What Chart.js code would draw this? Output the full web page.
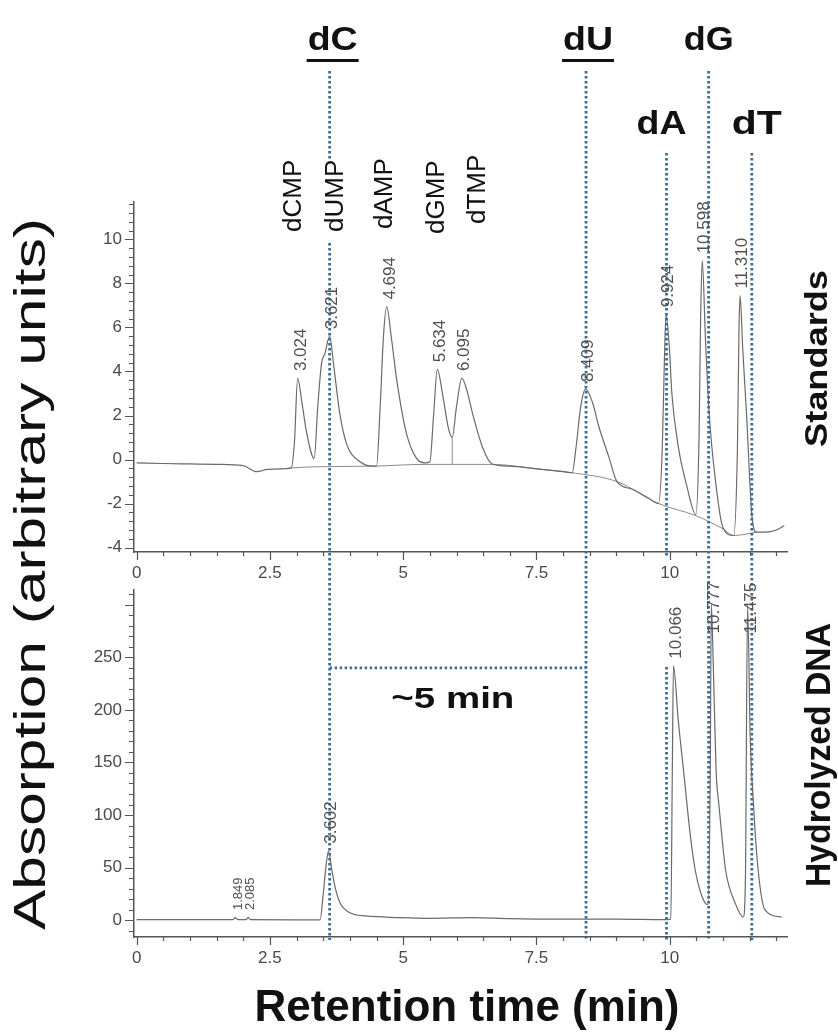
<!DOCTYPE html>
<html>
<head>
<meta charset="utf-8">
<title>HPLC of nucleosides: standards vs hydrolyzed DNA</title>
<script src="https://cdn.jsdelivr.net/npm/chart.js@4.4.1/dist/chart.umd.min.js"></script>
<style>
  html, body { margin: 0; padding: 0; background: #fff; }
  #figure { position: relative; width: 838px; height: 1032px; }
  #figure canvas { position: absolute; left: 0; top: 0; }
</style>
</head>
<body>
<div id="figure">
  <canvas id="standards" width="838" height="1032"></canvas>
  <canvas id="hydrolyzed" width="838" height="1032"></canvas>
</div>
<script>
// ─── Data: standards trace (top) ─────────────────────────────
const stdTime = [0, 0.5, 1.0, 1.5, 2.0, 2.25, 2.45, 2.7, 2.9, 2.96, 3.02, 3.1, 3.19, 3.33, 3.4,
  3.47, 3.53, 3.62, 3.7, 3.81, 3.94, 4.19, 4.43, 4.5, 4.57, 4.63, 4.69, 4.78, 4.88, 5.06,
  5.25, 5.4, 5.5, 5.57, 5.64, 5.75, 5.85, 5.92, 6.0, 6.1, 6.2, 6.3, 6.49, 6.67, 7.0,
  7.5, 8.0, 8.17, 8.24, 8.33, 8.42, 8.55, 8.67, 8.86, 9.01, 9.3, 9.6, 9.79, 9.86, 9.9,
  9.93, 9.99, 10.04, 10.16, 10.32, 10.49, 10.55, 10.58, 10.61, 10.67, 10.74, 10.86, 11.0, 11.2, 11.27,
  11.3, 11.32, 11.37, 11.44, 11.54, 11.63, 11.8, 12.0, 12.15];
const stdSignal = [-0.15, -0.18, -0.2, -0.22, -0.28, -0.55, -0.45, -0.42, -0.38, 0.8, 3.7, 2.6, 1.2, 0.05, 2.5,
  4.4, 4.8, 5.6, 4.2, 2.1, 0.7, -0.1, -0.3, -0.3, 2.5, 5.6, 6.95, 5.5, 3.6, 1.2,
  0.05, -0.15, -0.1, 2.0, 4.1, 2.8, 1.4, 1.0, 2.4, 3.7, 3.1, 2.1, 0.55, -0.2, -0.3,
  -0.42, -0.55, -0.6, 0.5, 2.4, 3.2, 2.6, 1.5, 0.1, -1.0, -1.35, -1.75, -2.0, 0.5, 4.5,
  6.6, 5.2, 3.0, 0.6, -1.2, -2.5, 1.0, 6.5, 9.05, 5.5, 2.1, -1.0, -3.1, -3.45, 0.5,
  6.0, 7.45, 5.0, 2.1, -2.5, -3.3, -3.3, -3.2, -3.0];

// integrator baseline drawn under the standards peaks
const stdBaseTime = [2.9, 3.33, 4.43, 5.4, 5.92, 6.67, 7.5, 8.17, 9.01, 9.79, 10.49, 11.0, 11.2, 11.63];
const stdBaseline = [-0.38, -0.33, -0.3, -0.22, -0.22, -0.22, -0.42, -0.6, -1.0, -2.0, -2.55, -3.15, -3.45, -3.3];
const stdDropTime = [5.92, 5.92];
const stdDropLevel = [1.0, -0.22];

const stdPeakLabels = ['3.024', '3.621', '4.694', '5.634', '6.095', '8.409', '9.924', '10.598', '11.310'];
const stdPeakHeights = [3.7, 5.6, 6.95, 4.1, 3.7, 3.2, 6.6, 9.05, 7.45];

// ─── Data: hydrolyzed DNA trace (bottom) ─────────────────────
const dnaTime = [0, 1.0, 1.8, 1.85, 1.9, 2.05, 2.09, 2.14, 3.0, 3.44,
  3.5, 3.56, 3.6, 3.66, 3.72, 3.81, 4.0, 4.3, 4.93, 5.5,
  6.3, 7.0, 8.0, 9.0, 9.9, 10.02, 10.05, 10.07, 10.16, 10.26,
  10.39, 10.48, 10.57, 10.67, 10.72, 10.76, 10.78, 10.82, 10.87, 10.92,
  10.98, 11.05, 11.23, 11.38, 11.42, 11.46, 11.51, 11.57, 11.66, 11.79, 12.1];
const dnaSignal = [0.5, 0.5, 0.5, 2.5, 0.5, 0.5, 2.5, 0.5, 0.3, 0.3,
  25, 55, 66, 48, 32, 17, 7, 4, 2.5, 1.8,
  2.5, 1.5, 1, 1, 0.5, 1, 150, 242, 190, 142,
  79, 47, 28, 16, 15, 140, 300, 237, 142, 111,
  79, 47, 16, 3, 40, 300, 174, 111, 47, 9.5, 3];

const dnaPeakLabels = ['1.849', '2.085', '3.602', '10.066', '10.777', '11.475'];
const dnaLabelAnchors = [3, 3, 66, 242, 266, 266];

// ─── Nucleoside markers ──────────────────────────────────────
const nucleosides = ['dC', 'dU', 'dA', 'dG', 'dT'];
const nucleosideTimes = [3.62, 8.43, 9.94, 10.73, 11.54];
const underlined = [true, true, false, false, false];
const nucleotides = ['dCMP', 'dUMP', 'dAMP', 'dGMP', 'dTMP'];
const fiveMinLevel = 240;

// ─── Look ────────────────────────────────────────────────────
const FONT = "'Liberation Sans', Arial, Helvetica, sans-serif";
const CURVE = '#6a6a6a';
const AXIS = '#555555';
const TICK_TEXT = '#4a4a4a';
const DOTS = '#3d6b94';
const INK = '#111111';

const LAYOUT = {
  headY: 50, lowHeadY: 134, underlineY: 59,
  headOffsets: [3, 2, -5, 0, 5],
  dotSegments: [[[71, 159], [243, 940]], [[71, 940]], [[153, 556], [667, 940]], [[71, 940]], [[153, 940]]],
  nucleotideX: [294, 336, 385, 437, 478],
  nucleotideBottom: [232, 232, 229, 234, 224]
};

const pts = (xs, ys) => xs.map((x, i) => ({ x, y: ys[i] }));
const isMultiple = (v, step) => Math.abs(v / step - Math.round(v / step)) < 1e-6;

// ─── Text helpers ────────────────────────────────────────────
function hText(ctx, str, cx, baseline, size, weight, len) {
  ctx.save();
  ctx.font = `${weight} ${size}px ${FONT}`;
  const sx = len ? len / ctx.measureText(str).width : 1;
  ctx.translate(cx, baseline);
  ctx.scale(sx, 1);
  ctx.textAlign = 'center';
  ctx.textBaseline = 'alphabetic';
  ctx.fillText(str, 0, 0);
  ctx.restore();
}

function vText(ctx, str, cx, bottom, size, weight, len) {
  ctx.save();
  ctx.font = `${weight} ${size}px ${FONT}`;
  const sx = len ? len / ctx.measureText(str).width : 1;
  ctx.translate(cx, bottom);
  ctx.rotate(-Math.PI / 2);
  ctx.scale(sx, 1);
  ctx.textAlign = 'left';
  ctx.textBaseline = 'middle';
  ctx.fillText(str, 0, 0);
  ctx.restore();
}

function dotted(ctx, x1, y1, x2, y2) {
  ctx.beginPath();
  ctx.moveTo(x1, y1);
  ctx.lineTo(x2, y2);
  ctx.stroke();
}

// ─── Scales ──────────────────────────────────────────────────
function xScale() {
  return {
    type: 'linear', min: -0.05, max: 12.2,
    ticks: { stepSize: 2.5, includeBounds: false, padding: 11, color: TICK_TEXT,
      font: { family: FONT, size: 17 }, maxRotation: 0, autoSkip: false },
    grid: { display: false, drawTicks: false },
    border: { display: true, color: AXIS, width: 1.5 },
    afterFit(s) { s.height = 30; }
  };
}

function yScale(min, max, step, labelMax) {
  return {
    type: 'linear', min, max,
    ticks: { stepSize: step, includeBounds: false, padding: 12, color: TICK_TEXT,
      font: { family: FONT, size: 17 }, callback: v => (v <= labelMax ? String(v) : '') },
    grid: { display: false, drawTicks: false },
    border: { display: true, color: AXIS, width: 1.5 },
    afterFit(s) { s.width = 50; }
  };
}

// ─── Minor / major tick marks ────────────────────────────────
function axisTicks(yFrom, yTo, yMinor, yMajor) {
  return {
    id: 'axisTicks',
    afterDraw(chart) {
      const { ctx, chartArea: a, scales: { x, y } } = chart;
      ctx.save();
      ctx.strokeStyle = AXIS;
      ctx.lineWidth = 1.2;
      ctx.beginPath();
      for (let i = 0; i * 0.5 <= 12 + 1e-9; i++) {
        const v = i * 0.5;
        const px = Math.round(x.getPixelForValue(v)) + 0.5;
        const len = isMultiple(v, 2.5) ? 8 : 4;
        ctx.moveTo(px, a.bottom);
        ctx.lineTo(px, a.bottom + len);
      }
      for (let i = 0; yFrom + i * yMinor <= yTo + 1e-9; i++) {
        const v = yFrom + i * yMinor;
        const py = Math.round(y.getPixelForValue(v)) + 0.5;
        const len = isMultiple(v, yMajor) ? 9 : 5;
        ctx.moveTo(a.left - len, py);
        ctx.lineTo(a.left, py);
      }
      ctx.stroke();
      ctx.restore();
    }
  };
}

// ─── Figure annotations (drawn on the top canvas) ────────────
const figureText = {
  id: 'figureText',
  afterDraw(chart) {
    const { ctx, scales: { x, y } } = chart;
    ctx.save();

    // dotted marker lines
    ctx.strokeStyle = DOTS;
    ctx.lineWidth = 2.8;
    ctx.setLineDash([2.5, 2.5]);
    nucleosideTimes.forEach((t, i) => {
      const px = x.getPixelForValue(t);
      LAYOUT.dotSegments[i].forEach(([y1, y2]) => dotted(ctx, px, y1, px, y2));
    });
    ctx.setLineDash([]);

    // nucleoside headings
    ctx.fillStyle = INK;
    nucleosides.forEach((n, i) => {
      const cx = x.getPixelForValue(nucleosideTimes[i]) + LAYOUT.headOffsets[i];
      const low = n === 'dA' || n === 'dT';
      hText(ctx, n, cx, low ? LAYOUT.lowHeadY : LAYOUT.headY, 34, 'bold', 50);
      if (underlined[i]) {
        ctx.fillRect(cx - 26, LAYOUT.underlineY, 52, 3);
      }
    });

    // nucleotide standards
    nucleotides.forEach((n, i) => vText(ctx, n, LAYOUT.nucleotideX[i], LAYOUT.nucleotideBottom[i], 26, 'normal'));

    // peak retention times
    ctx.fillStyle = '#505050';
    stdPeakLabels.forEach((lab, i) => {
      const px = x.getPixelForValue(parseFloat(lab)) + 3;
      const py = y.getPixelForValue(stdPeakHeights[i]) - 7;
      vText(ctx, lab, px, py, 17, 'normal');
    });

    // axis titles
    ctx.fillStyle = INK;
    vText(ctx, 'Absorption (arbitrary units)', 33, 930, 44, 'normal', 712);
    vText(ctx, 'Standards', 818, 447, 32, 'bold', 177);
    vText(ctx, 'Hydrolyzed DNA', 820, 887, 35, 'bold', 264);
    hText(ctx, 'Retention time (min)', 467, 1021, 44, 'bold', 425);
    ctx.restore();
  }
};

const dnaText = {
  id: 'dnaText',
  afterDraw(chart) {
    const { ctx, scales: { x, y } } = chart;
    ctx.save();
    ctx.fillStyle = '#505050';
    dnaPeakLabels.forEach((lab, i) => {
      const px = x.getPixelForValue(parseFloat(lab)) + 3;
      const py = y.getPixelForValue(dnaLabelAnchors[i]) - 7;
      vText(ctx, lab, px, py, i < 2 ? 13 : 17, 'normal');
    });

    // ~5 min shift between dC and dU
    const x1 = x.getPixelForValue(nucleosideTimes[0]);
    const x2 = x.getPixelForValue(nucleosideTimes[1]);
    const py = y.getPixelForValue(fiveMinLevel);
    ctx.strokeStyle = DOTS;
    ctx.lineWidth = 2.8;
    ctx.setLineDash([2.5, 2.5]);
    dotted(ctx, x1, py, x2, py);
    ctx.setLineDash([]);
    ctx.fillStyle = INK;
    hText(ctx, '~5 min', (x1 + x2) / 2 - 5, py + 40, 30, 'bold', 123);
    ctx.restore();
  }
};

// ─── Charts ──────────────────────────────────────────────────
const common = {
  responsive: false,
  animation: false,
  events: [],
  plugins: { legend: { display: false }, tooltip: { enabled: false } }
};

const lineStyle = { borderColor: CURVE, borderWidth: 1.2, pointRadius: 0, fill: false, cubicInterpolationMode: 'monotone' };

new Chart(document.getElementById('standards'), {
  type: 'line',
  data: {
    datasets: [
      { ...lineStyle, data: pts(stdTime, stdSignal) },
      { ...lineStyle, borderColor: '#8a8a8a', borderWidth: 1, data: pts(stdBaseTime, stdBaseline) },
      { ...lineStyle, borderColor: '#8a8a8a', borderWidth: 1, data: pts(stdDropTime, stdDropLevel) }
    ]
  },
  options: {
    ...common,
    layout: { padding: { top: 202, left: 84, right: 51, bottom: 450 } },
    scales: { x: xScale(), y: yScale(-4.2, 11.7, 2, 10) }
  },
  plugins: [axisTicks(-4, 11.6, 0.4, 2), figureText]
});

new Chart(document.getElementById('hydrolyzed'), {
  type: 'line',
  data: {
    datasets: [
      { ...lineStyle, data: pts(dnaTime, dnaSignal) }
    ]
  },
  options: {
    ...common,
    layout: { padding: { top: 590, left: 84, right: 51, bottom: 65 } },
    scales: { x: xScale(), y: yScale(-16, 314, 50, 250) }
  },
  plugins: [axisTicks(-10, 310, 10, 50), dnaText]
});
</script>
</body>
</html>
